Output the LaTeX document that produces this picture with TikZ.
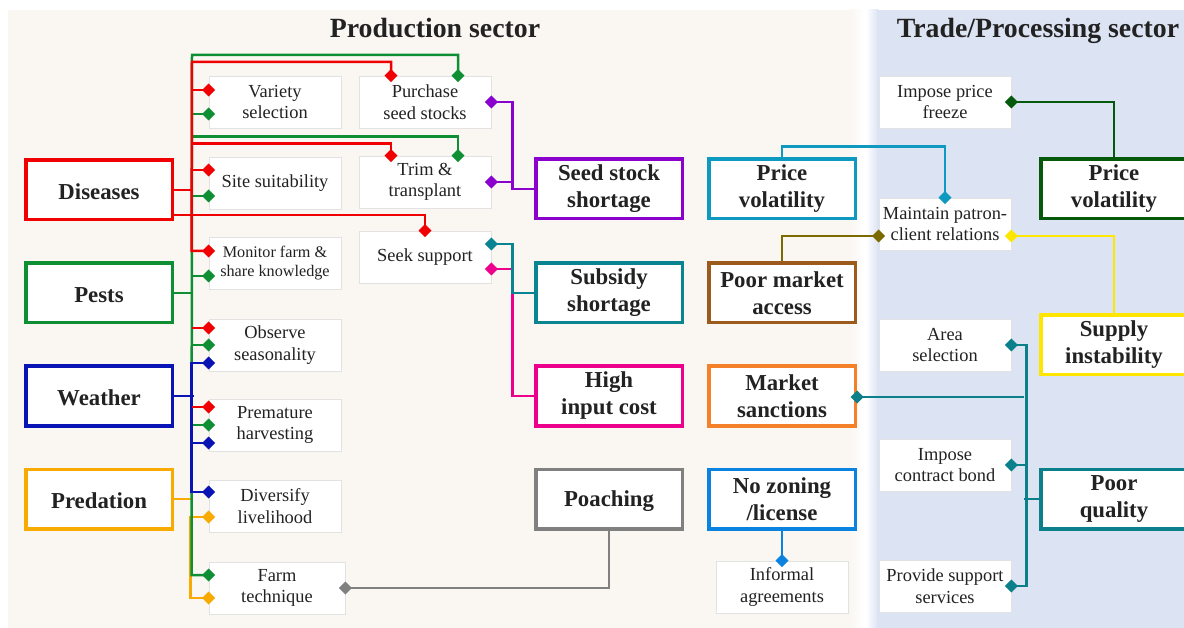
\documentclass[tikz,border=0pt]{standalone}
\usepackage{fontspec}
\setmainfont{Liberation Serif}
\usetikzlibrary{arrows.meta,positioning}
\definecolor{Ink}{HTML}{222222}
\definecolor{Cream}{HTML}{FAF7F3}
\definecolor{TradeBg}{HTML}{DCE3F3}
\definecolor{BoxLine}{HTML}{E2E2E2}
\definecolor{DisRed}{HTML}{F00000}
\definecolor{PestGreen}{HTML}{0E8F33}
\definecolor{WeaBlue}{HTML}{0A14B4}
\definecolor{PredOrange}{HTML}{F9AA00}
\definecolor{SeedPurple}{HTML}{8A00CC}
\definecolor{SubTeal}{HTML}{0B8492}
\definecolor{CostPink}{HTML}{EC008C}
\definecolor{PoachGray}{HTML}{808080}
\definecolor{PriceCyan}{HTML}{0E9AC0}
\definecolor{AccessBrown}{HTML}{9C5A1C}
\definecolor{AccessOlive}{HTML}{7A6A00}
\definecolor{SanctOrange}{HTML}{F5802A}
\definecolor{ZoneBlue}{HTML}{0A82E0}
\definecolor{FreezeGreen}{HTML}{045A0A}
\definecolor{SupplyYellow}{HTML}{FFE600}
\definecolor{QualTeal}{HTML}{0B7F8A}

\begin{document}
\begin{tikzpicture}[
  x=1pt, y=-1pt,
  % ── risk boxes ───────────────────────────────────────────
  risk/.style={
    draw=#1, line width=3.5pt, fill=white,
    minimum width=146.5pt, minimum height=59.5pt,
    inner sep=2pt, align=center, text=Ink,
    font=\fontsize{22.8}{27}\selectfont\bfseries
  },
  oneline/.style={execute at begin node={\rule{0pt}{20pt}}},
  % ── strategy boxes ───────────────────────────────────────
  strat/.style={
    draw=BoxLine, line width=0.9pt, fill=white,
    minimum width=132pt, minimum height=52pt,
    inner sep=2pt, align=center, text=Ink,
    font=\fontsize{18.4}{21.5}\selectfont
  },
  title/.style={font=\fontsize{27.8}{30}\selectfont\bfseries, text=Ink},
  % ── connectors ───────────────────────────────────────────
  wire/.style={line width=2.5pt, color=#1},
  dia/.style={{Diamond[length=13pt,width=13pt]}-, shorten <=-6.5pt},
  diab/.style={{Diamond[length=13pt,width=13pt]}-{Diamond[length=13pt,width=13pt]},
               shorten <=-6.5pt, shorten >=-6.5pt}
]
\useasboundingbox (0,0) rectangle (1184,628);

%% ── sector panels ──
\fill[Cream] (8,10) rectangle (856,628);
\shade[left color=Cream, right color=white] (850,10) rectangle (864,628);
\shade[left color=white, right color=TradeBg] (866,10) rectangle (878,628);
\fill[TradeBg] (877,10) rectangle (1184,628);

\node[title] (PTT) at (435,28)  {Production sector};
\node[title, anchor=base] (TTT) at (1038,38) {Trade/Processing sector};

%% ── Production risks ──
\node[risk=DisRed, oneline]     (DIS) at (99,190) {Diseases};
\node[risk=PestGreen, oneline]  (PES) at (99,293) {Pests};
\node[risk=WeaBlue, oneline]    (WEA) at (99,396) {Weather};
\node[risk=PredOrange, oneline] (PRE) at (99,499) {Predation};

\node[risk=SeedPurple] (SSS) at (609,189) {Seed stock\\shortage};
\node[risk=SubTeal]    (SUB) at (609,293) {Subsidy\\shortage};
\node[risk=CostPink]   (HIC) at (609,396) {High\\input cost};
\node[risk=PoachGray, oneline] (POA) at (609,499) {Poaching};

%% ── Production strategies ──
\node[strat] (VS)  at (275,102) {Variety\\selection};
\node[strat] (SS)  at (275,183) {Site suitability};
\node[strat, font=\fontsize{16.2}{19.5}\selectfont] (MF) at (275,263) {Monitor farm \&\\share knowledge};
\node[strat] (OS)  at (275,345) {Observe\\seasonality};
\node[strat] (PH)  at (275,425) {Premature\\harvesting};
\node[strat] (DL)  at (275,506) {Diversify\\livelihood};
\node[strat, minimum width=136pt] (FT) at (277,588) {Farm\\technique};

\node[strat] (PSS) at (425,102) {Purchase\\seed stocks};
\node[strat] (TT)  at (425,182) {Trim \&\\transplant};
\node[strat] (SK)  at (425,257) {Seek support};

%% ── Trade risks ──
\node[risk=PriceCyan]    (PVA) at (782,189)  {Price\\volatility};
\node[risk=AccessBrown]  (PMA) at (782,293)  {Poor market\\access};
\node[risk=SanctOrange]  (MSA) at (782,396)  {Market\\sanctions};
\node[risk=ZoneBlue]     (NZL) at (782,499)  {No zoning\\/license};
\node[risk=FreezeGreen]  (PVB) at (1114,189) {Price\\volatility};
\node[risk=SupplyYellow] (SUP) at (1114,345) {Supply\\instability};
\node[risk=QualTeal]     (PQU) at (1114,499) {Poor\\quality};

%% ── Trade strategies ──
\node[strat] (IPF) at (945,102) {Impose price\\freeze};
\node[strat] (MPC) at (945,224) {Maintain patron-\\client relations};
\node[strat] (ASL) at (945,345) {Area\\selection};
\node[strat] (ICB) at (945,465) {Impose\\contract bond};
\node[strat] (PSV) at (945,586) {Provide support\\services};
\node[strat] (IAG) at (782,587) {Informal\\agreements};

%% ── trunk tops ──
\coordinate (GT) at (192,55);
\coordinate (RT) at (192,62);

%% ── Predation (orange) ──
\draw[wire=PredOrange] (PRE.east) -- ++(18.5,0);
\draw[wire=PredOrange, diab] ([yshift=-11pt]DL.west) -- ++(-18,0) |- ([yshift=-10pt]FT.west);

%% ── Pests (green) ──
\draw[wire=PestGreen] (PES.east) -- (PES.east -| GT);
\draw[wire=PestGreen, diab] ([yshift=13pt]FT.west) -- ++(-17,0) -- (GT) -| ([xshift=33pt]PSS.north);
\draw[wire=PestGreen, dia] ([xshift=33pt]TT.north) -- ++(0,-19) -| (GT);
\foreach \n/\s in {VS/-12pt, SS/-13pt, MF/-13pt, OS/0pt, PH/0pt}
  \draw[wire=PestGreen, dia] ([yshift=\s]\n.west) -- ++(-17,0);

%% ── Weather (blue) ──
\draw[wire=WeaBlue] (WEA.east) -- ++(19.5,0);
\draw[wire=WeaBlue, diab] ([yshift=-18pt]OS.west) -- ++(-17,0) |- ([yshift=14pt]DL.west);
\draw[wire=WeaBlue, dia] ([yshift=-18pt]PH.west) -- ++(-17,0);

%% ── Diseases (red) ──
\draw[wire=DisRed] (DIS.east) -- (DIS.east -| RT);
\draw[wire=DisRed, diab] ([yshift=12pt]MF.west) -- ++(-17,0) -- (RT) -| ([xshift=-34pt]PSS.north);
\draw[wire=DisRed, dia] ([xshift=-34pt]TT.north) -- ++(0,-12) -| (RT);
\foreach \n/\s in {VS/12pt, SS/13pt, OS/17pt, PH/18pt}
  \draw[wire=DisRed, dia] ([yshift=\s]\n.west) -- ++(-17,0);
\draw[wire=DisRed, dia] (SK.north) |- ([yshift=-25pt]DIS.east);

%% ── middle column risks ──
\draw[wire=SeedPurple, dia] (PSS.east) -- ++(21,0) |- (SSS.west);
\draw[wire=SeedPurple, dia] (TT.east) -- ++(21,0);
\draw[wire=CostPink, dia] ([yshift=-12pt]SK.east) -- ++(21,0) |- (HIC.west);
\draw[wire=SubTeal, dia] ([yshift=13pt]SK.east) -- ++(21,0) |- (SUB.west);
\draw[wire=PoachGray, dia] (FT.east) -| (POA.south);

%% ── trade sector ──
\draw[wire=PriceCyan, dia] (MPC.north) -- ++(0,-51) -| (PVA.north);
\draw[wire=AccessOlive, dia] ([yshift=-12pt]MPC.west) -| (PMA.north);
\draw[wire=SupplyYellow, dia] ([yshift=-12pt]MPC.east) -| (SUP.north);
\draw[wire=FreezeGreen, dia] (IPF.east) -| (PVB.north);
\draw[wire=ZoneBlue, dia] (IAG.north) -- (NZL.south);

\draw[wire=QualTeal] (PQU.west) -- ++(-15,0) coordinate (QT);
\draw[wire=QualTeal, diab] (ASL.east) -- ++(15,0) |- (PSV.east);
\draw[wire=QualTeal, dia] (ICB.east) -- ++(15,0);
\draw[wire=QualTeal, dia] ([yshift=-1pt]MSA.east) -- ([yshift=-1pt]MSA.east -| QT);

\end{tikzpicture}
\end{document}
